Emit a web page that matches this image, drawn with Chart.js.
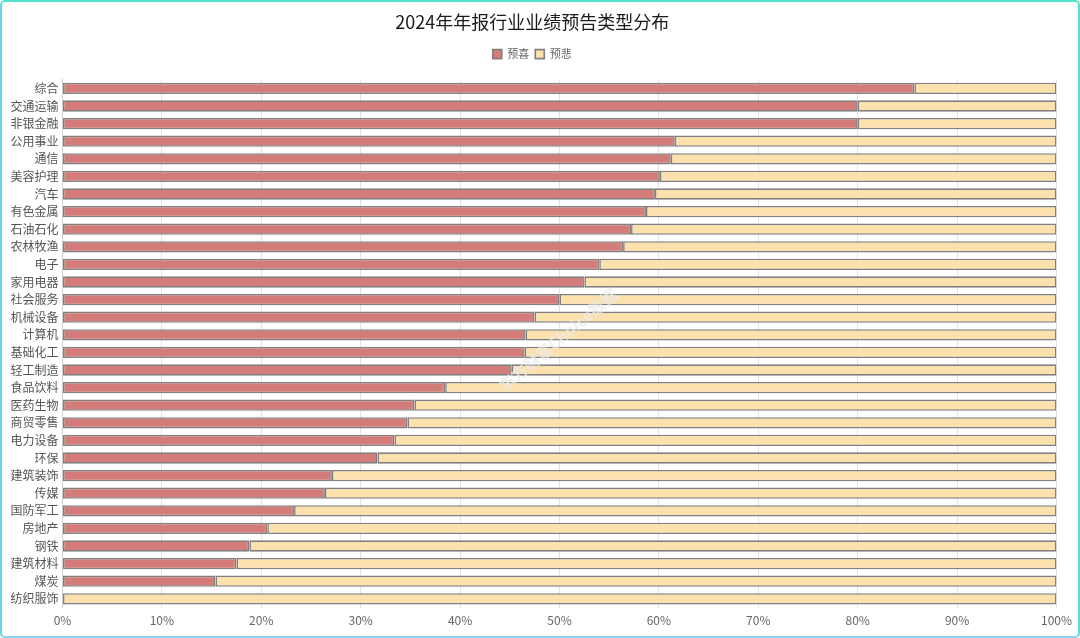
<!DOCTYPE html>
<html>
<head>
<meta charset="utf-8">
<script src="https://cdn.jsdelivr.net/npm/chart.js@4/dist/chart.umd.min.js"></script>
<style>
html,body{margin:0;padding:0;background:#fff;}
#wrap{position:absolute;left:0;top:0;width:1076px;height:634px;border:2px solid #55e2cc;border-bottom-color:#86d3f2;border-left-color:#5fd8e0;border-radius:5px;background:#fff;}
canvas{display:block;}
</style>
</head>
<body>
<div id="wrap"><canvas id="c" width="1076" height="634"></canvas></div>
<script>
const categories = ["综合","交通运输","非银金融","公用事业","通信","美容护理","汽车","有色金属","石油石化","农林牧渔","电子","家用电器","社会服务","机械设备","计算机","基础化工","轻工制造","食品饮料","医药生物","商贸零售","电力设备","环保","建筑装饰","传媒","国防军工","房地产","钢铁","建筑材料","煤炭","纺织服饰"];
const positive = [85.7,80.0,80.0,61.6,61.2,60.1,59.6,58.7,57.2,56.4,54.0,52.5,50.0,47.5,46.6,46.5,45.2,38.5,35.4,34.7,33.4,31.7,27.1,26.4,23.3,20.6,18.8,17.5,15.4,0];
const negative = [14.3,20.0,20.0,38.4,38.8,39.9,40.4,41.3,42.8,43.6,46.0,47.5,50.0,52.5,53.4,53.5,54.8,61.5,64.6,65.3,66.6,68.3,72.9,73.6,76.7,79.4,81.2,82.5,84.6,100];
const seriesNames = ["预喜","预悲"];
const titleText = "2024年年报行业业绩预告类型分布";
const watermark = "东方财富Choice数据";

const FONT = "'Noto Sans CJK SC','Noto Sans',sans-serif";

const wmPlugin = {
  id:'wm',
  afterDatasetsDraw(chart){
    const ctx = chart.ctx;
    ctx.save();
    ctx.translate(556, 338);
    ctx.rotate(-40*Math.PI/180);
    ctx.font = "bold 16px " + FONT;
    ctx.fillStyle = "rgba(235,235,235,0.75)";
    ctx.textAlign = "center";
    ctx.textBaseline = "middle";
    ctx.fillText(watermark, 0, 0);
    ctx.restore();
  }
};

const legendMargin = {
  id:'legendMargin',
  beforeInit(chart){
    const fit = chart.legend.fit;
    chart.legend.fit = function(){
      fit.bind(chart.legend)();
      this.height += 10;
    };
  }
};

new Chart(document.getElementById('c'), {
  type:'bar',
  data:{
    labels:categories,
    datasets:[
      {label:seriesNames[0], data:positive, backgroundColor:'#d47c7a', borderColor:'#808080', borderWidth:1.6, barPercentage:0.64, categoryPercentage:1.0, borderSkipped:false},
      {label:seriesNames[1], data:negative, backgroundColor:'#fde1ad', borderColor:'#808080', borderWidth:1.6, barPercentage:0.64, categoryPercentage:1.0, borderSkipped:false}
    ]
  },
  options:{
    indexAxis:'y',
    responsive:false,
    animation:false,
    maintainAspectRatio:false,
    layout:{padding:{left:4.5,right:20,top:8,bottom:2}},
    plugins:{
      title:{display:true,text:titleText,color:'#1a1a1a',font:{family:FONT,size:18,weight:'normal'},padding:{top:1,bottom:10}},
      legend:{display:true,position:'top',labels:{color:'#666',font:{family:FONT,size:11},boxWidth:9,boxHeight:9,padding:6,useBorderRadius:false}},
      tooltip:{enabled:false}
    },
    scales:{
      x:{
        stacked:true,min:0,max:100,
        ticks:{stepSize:10,color:'#666',font:{family:FONT,size:12},callback:v=>v+'%',padding:6},
        grid:{color:'#e2e2e2',drawTicks:false},
        border:{display:false}
      },
      y:{
        stacked:true,
        ticks:{color:'#555',font:{family:FONT,size:12},padding:4,autoSkip:false},
        grid:{display:false,drawTicks:false},
        border:{display:true,color:'#d0d0d0'}
      }
    }
  },
  plugins:[wmPlugin, legendMargin]
});
</script>
</body>
</html>
